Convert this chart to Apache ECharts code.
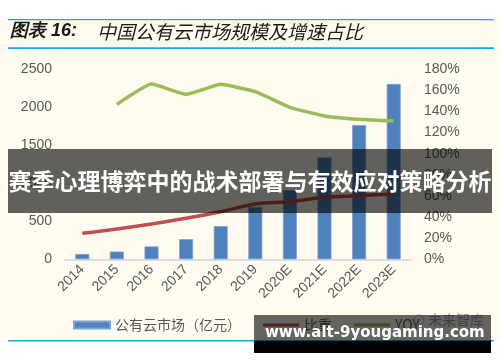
<!DOCTYPE html>
<html>
<head>
<meta charset="utf-8">
<script src="https://cdn.jsdelivr.net/npm/echarts@6/dist/echarts.min.js"></script>
<style>
html,body{margin:0;padding:0;background:#fff;}
#c{width:500px;height:362px;}
</style>
</head>
<body>
<div id="c"></div>
<script>
var categories = ['2014','2015','2016','2017','2018','2019','2020E','2021E','2022E','2023E'];
var marketSize = [70, 102, 170, 265, 437, 689, 910, 1340, 1767, 2307];
var share = [24.6, 28.7, 33.4, 38.8, 45.1, 52.4, 54.6, 58.7, 60.3, 61.9];
var yoy = [null, 146.8, 166, 156.3, 165.8, 158.8, 144, 135.8, 132.6, 131];
var leftTicks = {min: 0, max: 2500, interval: 500};
var rightTicks = {min: 0, max: 180, interval: 20};
var seriesNames = ['公有云市场（亿元）', '比重', 'YOY'];
var titleMain = '中国公有云市场规模及增速占比';
var titleLabel = '图表 16:';
var bannerText = '赛季心理博弈中的战术部署与有效应对策略分析';
var siteText = 'www.alt-9yougaming.com';
var sourceText = '未来智库';

var chart = echarts.init(document.getElementById('c'), null, {renderer: 'canvas'});
var lineIcon = 'path://M0,0 L36,0 L36,3 L0,3 Z';
var cjk = '"Noto Sans CJK SC", sans-serif';
var latin = '"Liberation Sans", Arial, sans-serif';
var option = {
  backgroundColor: '#ffffff',
  animation: false,
  grid: {left: 65, right: 89, top: 69.3, bottom: 102.7},
  legend: {
    left: 68, top: 313,
    itemGap: 22,
    itemWidth: 36, itemHeight: 7,
    textStyle: {color: '#595959', fontSize: 14, fontFamily: cjk},
    data: [
      {name: seriesNames[0], icon: 'rect'},
      {name: seriesNames[1], icon: lineIcon},
      {name: seriesNames[2], icon: lineIcon}
    ]
  },
  xAxis: {
    type: 'category',
    data: categories,
    axisLine: {lineStyle: {color: '#d0d3dc', width: 1.5}},
    axisTick: {show: false},
    axisLabel: {rotate: 45, color: '#595959', fontSize: 14, fontFamily: latin, margin: 8, interval: 0}
  },
  yAxis: [
    {
      type: 'value', min: leftTicks.min, max: leftTicks.max, interval: leftTicks.interval,
      axisLine: {show: false}, axisTick: {show: false}, splitLine: {show: false},
      axisLabel: {formatter: function (v) { return String(v); }, color: '#595959', fontSize: 14, margin: 13, fontFamily: latin}
    },
    {
      type: 'value', min: rightTicks.min, max: rightTicks.max, interval: rightTicks.interval,
      axisLine: {show: false}, axisTick: {show: false}, splitLine: {show: false},
      axisLabel: {formatter: function (v) { return String(v) + '%'; }, color: '#595959', fontSize: 14, margin: 13, fontFamily: latin}
    }
  ],
  series: [
    {
      name: seriesNames[0], type: 'bar', data: marketSize, barWidth: 14,
      itemStyle: {color: '#4f81bd', borderColor: '#7fa2d2', borderWidth: 0.8}
    },
    {
      name: seriesNames[1], type: 'line', yAxisIndex: 1, data: share, smooth: 0.4,
      symbol: 'none', lineStyle: {color: '#c0504d', width: 3.5}, itemStyle: {color: '#c0504d'}
    },
    {
      name: seriesNames[2], type: 'line', yAxisIndex: 1, data: yoy, smooth: 0.12,
      symbol: 'none', lineStyle: {color: '#9bbb59', width: 3.5}, itemStyle: {color: '#9bbb59'}
    }
  ],
  graphic: [
    {type: 'rect', z: -10, silent: true, shape: {x: 0, y: 19.5, width: 500, height: 321.5}, style: {fill: '#fffbf0'}},
    {type: 'rect', z: 1, silent: true, shape: {x: 8, y: 19, width: 486, height: 1.2}, style: {fill: '#1aa7e6'}},
    {type: 'rect', z: 1, silent: true, shape: {x: 8, y: 47.3, width: 486, height: 1.6}, style: {fill: '#1aa7e6'}},
    {type: 'rect', z: 1, silent: true, shape: {x: 8, y: 340, width: 486, height: 1.4}, style: {fill: '#1aa7e6'}},
    {type: 'text', z: 5, silent: true, left: 10, top: 22, style: {
      text: '{a|' + titleLabel + '}{b|' + titleMain + '}',
      rich: {
        a: {fontSize: 18, fontWeight: 'bold', fontStyle: 'italic', fill: '#1a1a1a', fontFamily: latin, padding: [0, 20, 0, 0]},
        b: {fontSize: 19, fontStyle: 'italic', fill: '#1a1a1a', fontFamily: cjk}
      }
    }},
    {type: 'circle', z: 5, silent: true, shape: {cx: 419, cy: 320, r: 5}, style: {fill: 'none', stroke: '#aaaaaa', lineWidth: 1}},
    {type: 'text', z: 5, silent: true, left: 428, top: 313, style: {text: sourceText, fontSize: 14, fill: '#9a9a9a', fontFamily: cjk}},
    {type: 'rect', z: 100, silent: true, shape: {x: 8, y: 149, width: 484, height: 64}, style: {fill: 'rgba(0,0,0,0.62)'}},
    {type: 'text', z: 101, silent: true, left: 'center', top: 170, style: {text: bannerText, fontSize: 23, fontWeight: 'bold', fill: '#ffffff', fontFamily: cjk}},
    {type: 'rect', z: 100, silent: true, shape: {x: 254, y: 315, width: 237, height: 26}, style: {fill: 'rgba(0,0,0,0.6)'}},
    {type: 'rect', z: 100, silent: true, shape: {x: 254, y: 341, width: 237, height: 12}, style: {fill: '#000000'}},
    {type: 'text', z: 101, silent: true, left: 265, top: 326, style: {text: siteText, fontSize: 15, fontWeight: 'bold', fill: '#ffffff', fontFamily: '"DejaVu Sans", sans-serif'}}
  ]
};
chart.setOption(option);
</script>
</body>
</html>
